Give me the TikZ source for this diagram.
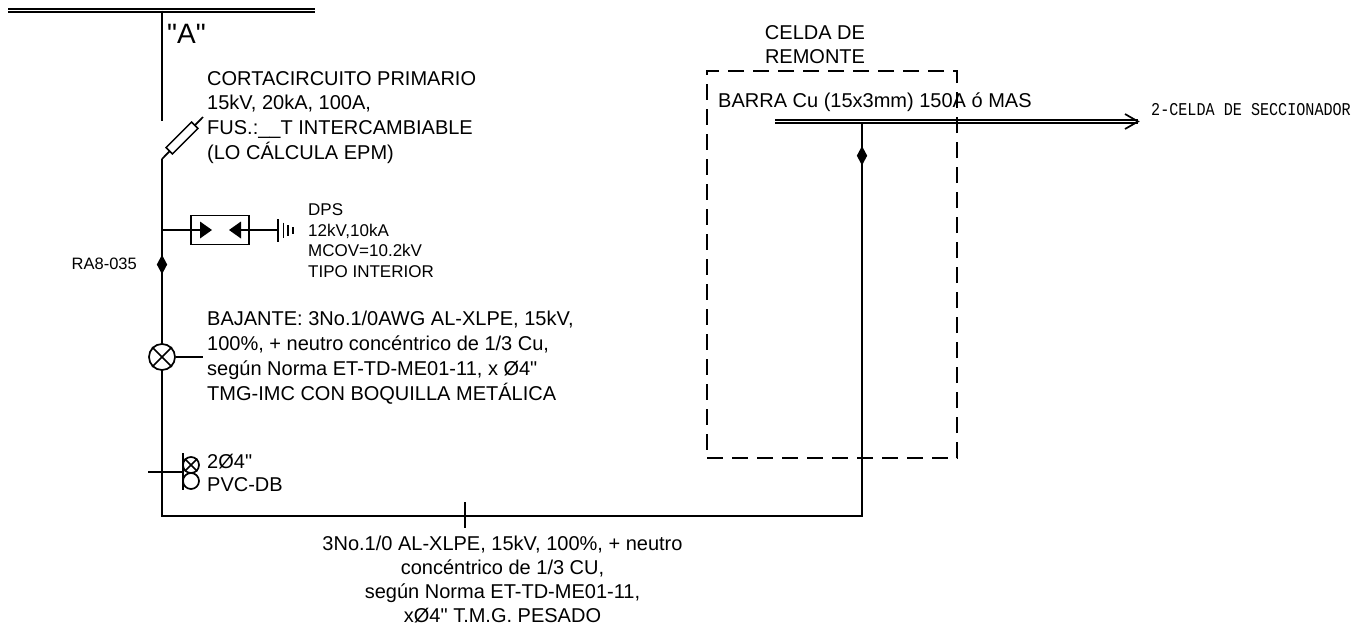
\documentclass[tikz,border=0pt]{standalone}
\usepackage{fontspec}
\setmainfont[Ligatures=TeXOff]{Liberation Sans}
\newfontfamily\labelfont[FakeStretch=0.84]{Liberation Mono}
\usetikzlibrary{shapes.geometric}
\tikzset{
	wire/.style={line width=1.7pt,black},
	rail/.style={line width=1.6pt,black},
	txtb/.style={inner sep=0pt,align=left,anchor=north west,font=\fontsize{20}{24.8}\selectfont},
	txtc/.style={inner sep=0pt,align=center,anchor=north,font=\fontsize{20}{24}\selectfont},
	txts/.style={inner sep=0pt,align=left,anchor=north west,font=\fontsize{17}{20.6}\selectfont},
	joint/.style={diamond,fill=black,draw=none,inner sep=0pt,minimum width=10.5pt,minimum height=19.5pt},
	ring/.style={circle,draw,line width=1.7pt,fill=white,inner sep=0pt},
}
\begin{document}
\begin{tikzpicture}[x=1pt,y=-1pt]
	\useasboundingbox (0,0) rectangle (1353,625);
	% barra superior y bajante
	\coordinate (busL) at (8,10.7);
	\coordinate (busR) at (315,10.7);
	\coordinate (busT) at (162,10.7);
	\coordinate (cutT) at (162,121);
	\coordinate (cutB) at (162,159);
	\coordinate (cutE) at (203,117);
	\coordinate (corner) at (162,516);
	\coordinate (cornerR) at (862,516);
	\coordinate (barT) at (862,121.5);
	\draw[rail] ([yshift=1.5pt]busL) -- ([yshift=1.5pt]busR);
	\draw[rail] ([yshift=-1.5pt]busL) -- ([yshift=-1.5pt]busR);
	\draw[wire] (busT) -- (cutT);
	\draw[wire] (cutB) -- (cutE);
	\node[draw,line width=1.5pt,fill=white,minimum width=36pt,minimum height=9pt,inner sep=0pt,rotate=45] (fuse) at (182,138) {};
	\draw[wire] (cutB) -- (corner) -- (cornerR) -- (barT);
	% DPS
	\node[draw,line width=1.7pt,minimum width=58pt,minimum height=29pt,inner sep=0pt] (dps) at (220,230) {};
	\coordinate (dpsL) at (162,230);
	\coordinate (gndA) at (278,230);
	\draw[wire] (dpsL) -- (dps.west);
	\draw[wire] (dps.east) -- (gndA);
	\draw[wire] (dps.west) -- (205,230);
	\draw[wire] (236,230) -- (dps.east);
	\fill (200,221.5) -- (212,230) -- (200,238.5) -- cycle;
	\fill (241,221.5) -- (229,230) -- (241,238.5) -- cycle;
	\draw[line width=1.3pt] (278,219) -- (278,241.5);
	\draw[line width=1.3pt] (283.3,222.5) -- (283.3,238);
	\draw[line width=1.3pt] (288,225) -- (288,236);
	\draw[line width=1.3pt] (293,227) -- (293,233.5);
	% uniones
	\node[joint] (jointA) at (162,264.5) {};
	\node[joint] (jointB) at (862,155.7) {};
	% terminal
	\node[ring,minimum size=26pt] (lamp) at (162,357) {};
	\draw[wire] (lamp.45) -- (lamp.225);
	\draw[wire] (lamp.135) -- (lamp.315);
	\coordinate (lampE) at (203,357);
	\draw[wire] (lamp.east) -- (lampE);
	% ductos
	\node[ring,minimum size=16pt] (ductA) at (191,465) {};
	\node[ring,minimum size=16pt] (ductB) at (191,481) {};
	\draw[wire] (ductA.45) -- (ductA.225);
	\draw[wire] (ductA.135) -- (ductA.315);
	\coordinate (ductT) at (183,453);
	\coordinate (ductD) at (183,490);
	\coordinate (ductL) at (148,472);
	\coordinate (ductM) at (183,472);
	\draw[wire] (ductT) -- (ductD);
	\draw[wire] (ductL) -- (ductM);
	% marca del cable
	\coordinate (markT) at (465,502);
	\coordinate (markB) at (465,528);
	\draw[wire] (markT) -- (markB);
	% celda
	\node[draw,line width=1.3pt,dash pattern=on 16pt off 9pt,minimum width=250pt,minimum height=387pt,inner sep=0pt] (celda) at (832,264.5) {};
	\coordinate (barL) at (775,121.5);
	\coordinate (barR) at (1138,121.5);
	\draw[rail] ([yshift=1.5pt]barL) -- ([yshift=1.5pt]barR);
	\draw[rail] ([yshift=-1.5pt]barL) -- ([yshift=-1.5pt]barR);
	\coordinate (tipA) at (1125,114);
	\coordinate (tipB) at (1125,129);
	\draw[wire] (tipA) -- (barR) -- (tipB);
	% textos
	\node[inner sep=0pt,anchor=north west,font=\fontsize{28}{30}\selectfont] (nameA) at (167,24) {"A"};
	\node[txtb] (cutTxt) at (207,71) {CORTACIRCUITO PRIMARIO\\15kV, 20kA, 100A,\\FUS.:\_\_T INTERCAMBIABLE\\(LO CÁLCULA EPM)};
	\node[txts] (dpsTxt) at (308,203.5) {DPS\\12kV,10kA\\MCOV=10.2kV\\TIPO INTERIOR};
	\node[inner sep=0pt,anchor=east,font=\fontsize{16.5}{18}\selectfont] (raTxt) at (137,264) {RA8-035};
	\node[txtb] (bajTxt) at (207,311) {BAJANTE: 3No.1/0AWG AL-XLPE, 15kV,\\100\%, + neutro concéntrico de 1/3 Cu,\\según Norma ET-TD-ME01-11, x Ø4"\\TMG-IMC CON BOQUILLA METÁLICA};
	\node[txtb,font=\fontsize{20}{23.4}\selectfont] (ductTxt) at (207,454) {2Ø4"\\PVC-DB};
	\node[txtc] (cabTxt) at (502.5,535.5) {3No.1/0 AL-XLPE, 15kV, 100\%, + neutro\\concéntrico de 1/3 CU,\\según Norma ET-TD-ME01-11,\\xØ4" T.M.G. PESADO};
	\node[txtc] (celTxt) at (815,25) {CELDA DE\\REMONTE};
	\node[txtb] (barTxt) at (718,93) {BARRA Cu (15x3mm) 150A ó MAS};
	\node[inner sep=0pt,anchor=west,font=\labelfont\fontsize{18}{20}\selectfont] (secTxt) at (1151,110) {2-CELDA DE SECCIONADOR};
\end{tikzpicture}
\end{document}
